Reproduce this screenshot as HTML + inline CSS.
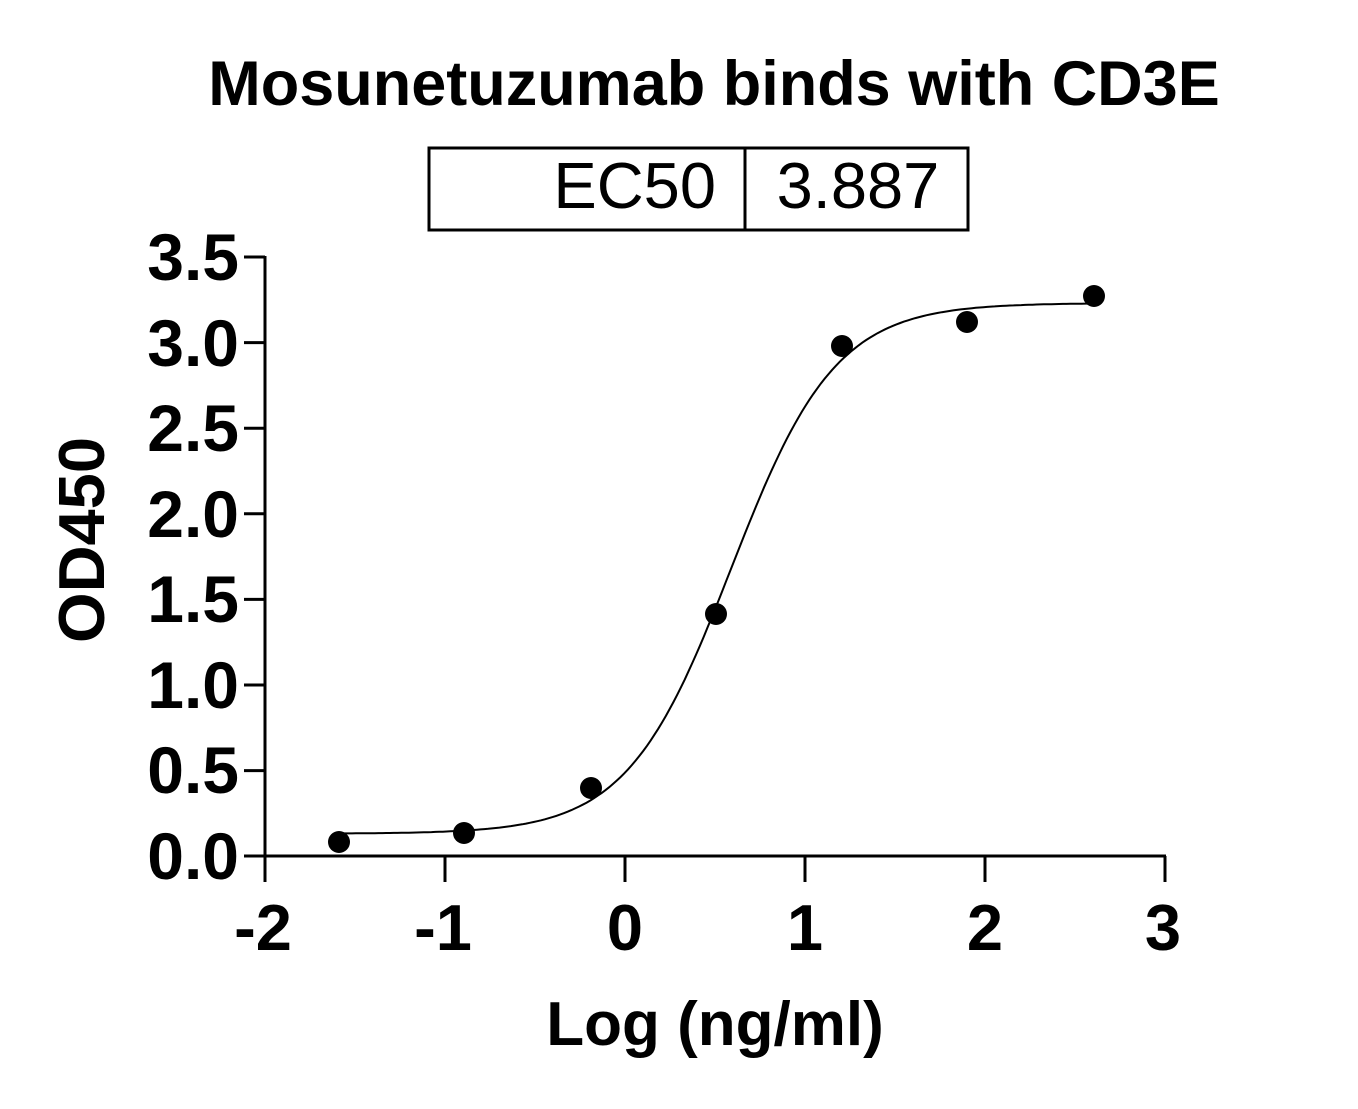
<!DOCTYPE html>
<html><head><meta charset="utf-8"><style>
html,body{margin:0;padding:0;background:#fff;}
</style></head><body>
<svg id="s" width="1358" height="1104" xmlns="http://www.w3.org/2000/svg" font-family="Liberation Sans, Arial, sans-serif">
<rect width="1358" height="1104" fill="#fff"/>
<text x="714" y="105" font-size="63" font-weight="bold" text-anchor="middle">Mosunetuzumab binds with CD3E</text>
<rect x="429" y="148" width="539" height="82" fill="none" stroke="#000" stroke-width="3"/>
<line x1="745" y1="148" x2="745" y2="230" stroke="#000" stroke-width="3"/>
<text x="716" y="208" font-size="65" text-anchor="end">EC50</text>
<text x="858" y="208" font-size="65" text-anchor="middle">3.887</text>
<g stroke="#000" stroke-width="3" fill="none">
<line x1="265" y1="256" x2="265" y2="858"/>
<line x1="264" y1="856" x2="1166" y2="856"/>
<line x1="244" y1="257" x2="265" y2="257"/>
<line x1="244" y1="342.6" x2="265" y2="342.6"/>
<line x1="244" y1="428.2" x2="265" y2="428.2"/>
<line x1="244" y1="513.8" x2="265" y2="513.8"/>
<line x1="244" y1="599.4" x2="265" y2="599.4"/>
<line x1="244" y1="685" x2="265" y2="685"/>
<line x1="244" y1="770.6" x2="265" y2="770.6"/>
<line x1="244" y1="856" x2="265" y2="856"/>
<line x1="265" y1="856" x2="265" y2="882"/>
<line x1="445" y1="856" x2="445" y2="882"/>
<line x1="625" y1="856" x2="625" y2="882"/>
<line x1="805" y1="856" x2="805" y2="882"/>
<line x1="985" y1="856" x2="985" y2="882"/>
<line x1="1165" y1="856" x2="1165" y2="882"/>
</g>
<g font-size="66" font-weight="bold" text-anchor="end">
<text x="239" y="280">3.5</text>
<text x="239" y="366">3.0</text>
<text x="239" y="451">2.5</text>
<text x="239" y="537">2.0</text>
<text x="239" y="622">1.5</text>
<text x="239" y="708">1.0</text>
<text x="239" y="793">0.5</text>
<text x="239" y="879">0.0</text>
</g>
<g font-size="65" font-weight="bold" text-anchor="middle">
<text x="263" y="950">-2</text>
<text x="443" y="950">-1</text>
<text x="625" y="950">0</text>
<text x="805" y="950">1</text>
<text x="985" y="950">2</text>
<text x="1163" y="950">3</text>
</g>
<text x="715" y="1045" font-size="62" font-weight="bold" text-anchor="middle">Log (ng/ml)</text>
<text transform="translate(104,540) rotate(-90)" font-size="65" font-weight="bold" text-anchor="middle">OD450</text>
<path id="curve" fill="none" stroke="#000" stroke-width="2"/>
<g fill="#000">
<circle cx="339" cy="842" r="11"/>
<circle cx="464" cy="833" r="11"/>
<circle cx="591" cy="788" r="11"/>
<circle cx="716" cy="614" r="11"/>
<circle cx="842" cy="346" r="11"/>
<circle cx="967" cy="322" r="11"/>
<circle cx="1094" cy="296" r="11"/>
</g>
</svg>
<script>
var d="";
for(var i=0;i<=200;i++){var x=-1.6+4.2*i/200;var v=0.13+3.1/(1+Math.pow(10,(0.59-x)*1.5));
var px=265+(x+2)*180, py=856-v*171.2; d+=(i?"L":"M")+px.toFixed(1)+" "+py.toFixed(1);}
document.getElementById("curve").setAttribute("d",d);
</script>
</body></html>
